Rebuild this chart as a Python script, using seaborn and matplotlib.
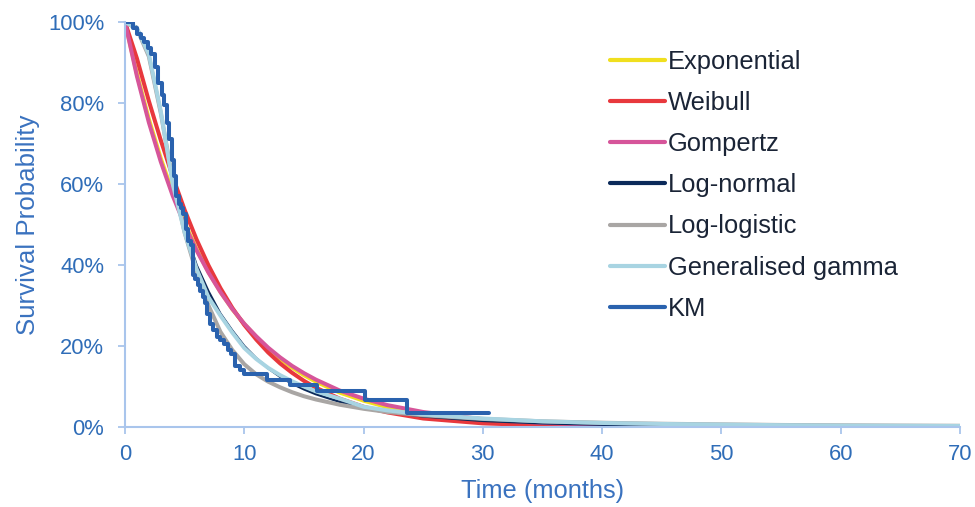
import matplotlib
matplotlib.use("Agg")
import matplotlib.pyplot as plt
import numpy as np
import pandas as pd
import seaborn as sns

# ---------------- data ----------------
time_months = [0, 1, 2, 3, 4, 5, 6, 7, 8, 9, 10, 11, 12, 13, 14, 15, 16, 18, 20,
               22, 25, 30, 35, 40, 45, 50, 55, 60, 65, 70]

exponential = [100, 87.2, 76.0, 66.3, 57.8, 50.4, 43.9, 38.3, 33.4, 29.1, 25.4, 22.2,
               19.3, 16.8, 14.7, 12.8, 11.2, 8.5, 6.5, 4.9, 3.3, 1.6, 0.83, 0.42,
               0.21, 0.11, 0.05, 0.03, 0.01, 0.01]
weibull = [100, 91, 80.5, 70.8, 61.8, 53.6, 46.3, 39.9, 34.3, 29.4, 25.2, 21.6, 18.4,
           15.7, 13.4, 11.4, 9.7, 7.0, 5.0, 3.6, 2.1, 0.9, 0.4, 0.15, 0.06, 0.02,
           0.01, 0, 0, 0]
gompertz = [100, 86.6, 75.2, 65.5, 57.1, 49.9, 43.6, 38.1, 33.3, 29.1, 25.5, 22.4,
            19.6, 17.2, 15.1, 13.3, 11.7, 9.0, 7.0, 5.4, 3.7, 1.9, 1.0, 0.55, 0.3,
            0.17, 0.1, 0.05, 0.03, 0.02]
log_normal = [100, 98.8, 92, 78, 61, 49, 40, 33.5, 28, 23.8, 20, 17, 14.5, 12.4,
              10.7, 9.3, 8.1, 6.2, 4.8, 3.7, 2.6, 1.5, 0.9, 0.55, 0.35, 0.22, 0.15,
              0.1, 0.07, 0.05]
log_logistic = [100, 98.3, 91.5, 77.5, 61, 48, 38, 30, 23.5, 19, 15.5, 13, 11.2, 9.8,
                8.6, 7.6, 6.8, 5.5, 4.5, 3.7, 2.9, 2.0, 1.4, 1.05, 0.8, 0.65, 0.5,
                0.42, 0.35, 0.3]
gen_gamma = [100, 98.5, 92, 78, 60, 48, 39, 32, 27.5, 23.3, 19.5, 16.8, 14.6, 12.8,
             11.3, 10, 8.8, 7, 5.0, 4.1, 3.1, 2.1, 1.4, 1.0, 0.75, 0.6, 0.45, 0.35,
             0.3, 0.25]

km_time = [0, 0.7, 1.0, 1.3, 1.6, 1.9, 2.2, 2.5, 2.8, 3.1, 3.3, 3.5, 3.7, 3.9, 4.1,
           4.3, 4.5, 4.7, 4.9, 5.1, 5.3, 5.5, 5.7, 5.9, 6.1, 6.3, 6.5, 6.7, 6.9,
           7.1, 7.4, 7.7, 8.0, 8.3, 8.6, 8.9, 9.2, 9.6, 10.0, 11.9, 13.8, 16.1,
           20.1, 23.6, 30.5]
km_surv = [100, 98.5, 97, 96, 95, 93.5, 92, 89, 85, 82, 79.5, 75, 71, 66, 62, 57,
           55, 54, 52.5, 49, 46, 45, 37.5, 36.5, 35, 33.5, 32, 30.5, 28, 25.5, 24,
           22.3, 21.5, 20.5, 19, 18, 15, 14, 13, 11.6, 10.4, 9.0, 6.7, 3.4, 3.4]

series_names = ["Exponential", "Weibull", "Gompertz", "Log-normal", "Log-logistic",
                "Generalised gamma"]
series_values = [exponential, weibull, gompertz, log_normal, log_logistic, gen_gamma]
series_colors = ["#F0DF1E", "#E8383D", "#D6559A", "#0B2A5A", "#A9A6A4", "#A8D4E2"]
series_widths = [2.9, 2.9, 2.9, 1.7, 2.9, 2.9]
km_color = "#2A62AE"

x_ticks = [0, 10, 20, 30, 40, 50, 60, 70]
y_ticks = [0, 20, 40, 60, 80, 100]

# ---------------- style ----------------
sns.set_theme(style="white")
plt.rcParams["font.family"] = ["Liberation Sans", "DejaVu Sans"]

axis_col = "#A9C5EC"
tick_txt = "#2F6DB8"
label_txt = "#3A72BF"
legend_txt = "#1A2436"

fig = plt.figure(figsize=(9.75, 5.07), dpi=100)
ax = fig.add_axes([125 / 975, 1 - 427 / 507, 835 / 975, 405 / 507])

for name, vals, col, lw in zip(series_names, series_values, series_colors, series_widths):
    df = pd.DataFrame({"t": time_months, "s": vals})
    sns.lineplot(data=df, x="t", y="s", color=col, lw=lw, label=name, ax=ax,
                 errorbar=None, sort=True)

km_df = pd.DataFrame({"t": km_time, "s": km_surv})
sns.lineplot(data=km_df, x="t", y="s", color=km_color, lw=2.9, label="KM", ax=ax,
             errorbar=None, drawstyle="steps-post")

ax.set_xlim(0, 70)
ax.set_ylim(0, 100)
ax.set_xticks(x_ticks)
ax.set_yticks(y_ticks)
ax.set_yticklabels([f"{v}%" for v in y_ticks])
ax.set_xticklabels([str(v) for v in x_ticks])

for s in ["top", "right"]:
    ax.spines[s].set_visible(False)
for s in ["left", "bottom"]:
    ax.spines[s].set_color(axis_col)
    ax.spines[s].set_linewidth(1.5)

ax.tick_params(axis="x", which="major", direction="out", length=5, width=1.3,
               color=axis_col, labelcolor=tick_txt, labelsize=15.8, pad=7,
               bottom=True)
ax.tick_params(axis="y", which="major", direction="out", length=5, width=1.3,
               color=axis_col, labelcolor=tick_txt, labelsize=15.8, pad=10,
               left=True)

ax.set_xlabel("Time (months)", fontsize=18.4, color=label_txt)
ax.set_ylabel("Survival Probability", fontsize=18.6, color=label_txt)
ax.xaxis.set_label_coords(0.5, -0.128)
ax.yaxis.set_label_coords(-0.102, 0.5)

leg = ax.legend(loc="upper left", bbox_to_anchor=(610 / 975, 1 - 50 / 507),
                bbox_transform=fig.transFigure, frameon=False, fontsize=18.4,
                handlelength=2.15, handletextpad=0.12, labelspacing=0.67,
                borderpad=0, borderaxespad=0)
for t in leg.get_texts():
    t.set_color(legend_txt)
for h in leg.get_lines():
    h.set_linewidth(3.0)

fig.savefig("out.png", dpi=100)
